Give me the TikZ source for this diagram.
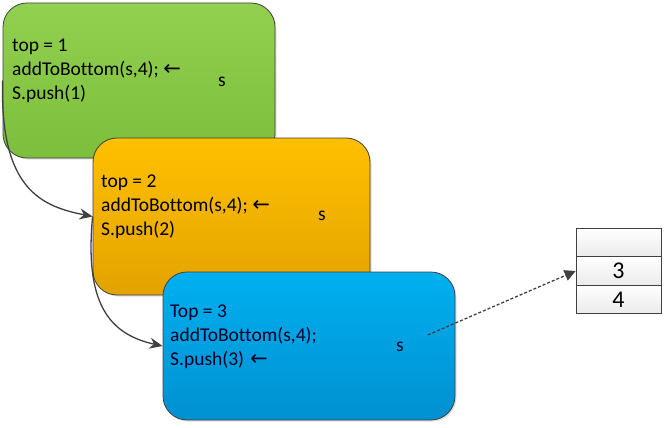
\documentclass[tikz,border=0pt]{standalone}
\usepackage{fontspec}
\setmainfont[Ligatures={NoCommon}]{Carlito}
\newfontfamily\arrowfont{DejaVu Sans}
\usetikzlibrary{arrows.meta,shadows}
\definecolor{frmgreen}{HTML}{92D050}
\definecolor{frmgreend}{HTML}{7DBE3C}
\definecolor{frmorange}{HTML}{FFC000}
\definecolor{frmoranged}{HTML}{E3A300}
\definecolor{frmblue}{HTML}{00B0F0}
\definecolor{frmblued}{HTML}{0090D0}
\definecolor{lnkgray}{HTML}{404040}

\newcommand{\lt}{{\arrowfont\fontsize{21}{24}\selectfont ←}}

\begin{document}
\begin{tikzpicture}[x=1pt,y=-1pt,
  frame/.style={draw=lnkgray,line width=0.8pt,rounded corners=24pt,
    drop shadow={opacity=0.25,shadow xshift=1.5pt,shadow yshift=-1.5pt}},
  code/.style={anchor=west,align=left,inner sep=0pt,font=\fontsize{19.5}{24}\selectfont},
  svar/.style={inner sep=0pt,font=\fontsize{19.5}{24}\selectfont},
  cell/.style={draw=lnkgray,line width=0.7pt,minimum width=85pt,minimum height=28.5pt,
    top color=white,bottom color=black!8,inner sep=0pt,font=\fontsize{24}{24}\selectfont},
  call/.style={-{Stealth[length=13pt,width=11pt]},lnkgray,line width=1.3pt}]
  \useasboundingbox (0,0) rectangle (667,428);

  % call frames
  \node[frame,top color=frmgreen,bottom color=frmgreend,minimum width=272pt,minimum height=155pt] (c1) at (139,80.5) {};
  \node[code] (t1) at (12,71) {top = 1\\addToBottom(s,4); \lt\\S.push(1)};
  \node[svar] (s1) at (222,82) {s};

  \node[frame,top color=frmorange,bottom color=frmoranged,minimum width=277pt,minimum height=157pt] (c2) at (231.5,216.5) {};
  \node[code] (t2) at (101,207) {top = 2\\addToBottom(s,4); \lt\\S.push(2)};
  \node[svar] (s2) at (322,216) {s};

  \node[frame,top color=frmblue,bottom color=frmblued,minimum width=292pt,minimum height=148pt] (c3) at (309,346) {};
  \node[code,text=black!85!blue] (t3) at (170,337) {Top = 3\\addToBottom(s,4);\\S.push(3)\hspace{6pt}\lt};
  \node[svar,text=black!80!blue] (s3) at (400,347) {s};

  % stack
  \node[cell,drop shadow={opacity=0.2,shadow xshift=1pt,shadow yshift=-1pt}] (k0) at (618.5,242.5) {};
  \node[cell] (k1) at (618.5,271) {3};
  \node[cell] (k2) at (618.5,299.5) {4};

  \draw[call] (c1.west) .. controls +(-3,110) and +(-50,-10) .. (c2.west);
  \draw[call] (c2.west) .. controls +(-8,85) and +(-55,-12) .. (c3.west);
  \draw[lnkgray,line width=1.3pt,dash pattern=on 3pt off 2pt,shorten <=26pt,
    -{Triangle[length=11pt,width=11pt]}] (s3) -- (k1.west);
\end{tikzpicture}
\end{document}
